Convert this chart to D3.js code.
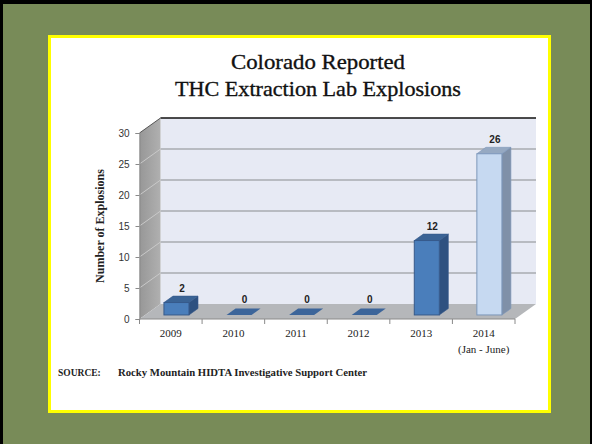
<!DOCTYPE html>
<html>
<head>
<meta charset="utf-8">
<script src="https://cdn.jsdelivr.net/npm/d3@7"></script>
<style>
  html, body { margin: 0; padding: 0; background: #000; }
  svg { display: block; }
</style>
</head>
<body>
<script>
// Reported THC extraction lab explosions in Colorado, by year
const categories = ["2009", "2010", "2011", "2012", "2013", "2014"];
const subLabels = ["", "", "", "", "", "(Jan - June)"];
const explosions = [2, 0, 0, 0, 12, 26];
const yTicks = [0, 5, 10, 15, 20, 25, 30];

const W = 592, H = 444;
const svg = d3.select("body").append("svg").attr("width", W).attr("height", H);

// green mat with black edge
svg.append("rect").attr("x", 3).attr("y", 4).attr("width", 587).attr("height", H - 4).attr("fill", "#788b58");
// white card with yellow border
svg.append("rect").attr("x", 49.5).attr("y", 36.5).attr("width", 500).attr("height", 375)
  .attr("fill", "#fff").attr("stroke", "#ffff00").attr("stroke-width", 3);

// title
const serif = "'Liberation Serif', 'Times New Roman', serif";
svg.append("text").attr("x", 318).attr("y", 69).attr("text-anchor", "middle")
  .attr("font-family", serif).attr("font-size", 21).attr("fill", "#111")
  .attr("stroke", "#111").attr("stroke-width", 0.35)
  .attr("textLength", 174).attr("lengthAdjust", "spacingAndGlyphs")
  .text("Colorado Reported");
svg.append("text").attr("x", 318).attr("y", 96).attr("text-anchor", "middle")
  .attr("font-family", serif).attr("font-size", 21).attr("fill", "#111")
  .attr("stroke", "#111").attr("stroke-width", 0.35)
  .attr("textLength", 286).attr("lengthAdjust", "spacingAndGlyphs")
  .text("THC Extraction Lab Explosions");

// scales
const x = d3.scaleBand().domain(categories).range([139.5, 515]);
const y = d3.scaleLinear().domain([0, 30]).range([319, 133]);
const DX = 21, DY = -15;          // depth of the plot box
const t0 = 0.27, t1 = 0.70;        // bar depth band inside the box

const [x0, x1] = x.range();
const g = svg.append("g");

const defs = svg.append("defs");
const lg = defs.append("linearGradient").attr("id", "sideWall").attr("x1", 0).attr("x2", 1);
lg.append("stop").attr("offset", 0).attr("stop-color", "#979797");
lg.append("stop").attr("offset", 1).attr("stop-color", "#b0b0b0");

// back wall
g.append("rect").attr("x", x0 + DX).attr("y", y(30) + DY)
  .attr("width", x1 - x0).attr("height", y(0) - y(30)).attr("fill", "#e7eaf4");
// left side wall
g.append("polygon")
  .attr("points", [[x0, y(30)], [x0 + DX, y(30) + DY], [x0 + DX, y(0) + DY], [x0, y(0)]].join(" "))
  .attr("fill", "url(#sideWall)");
// floor
g.append("polygon")
  .attr("points", [[x0, y(0)], [x1, y(0)], [x1 + DX, y(0) + DY], [x0 + DX, y(0) + DY]].join(" "))
  .attr("fill", "#b5b7ba");

// gridlines on back wall and side wall
const gridVals = yTicks.filter(v => v > 0 && v < 30);
g.selectAll(".grid").data(gridVals).join("line")
  .attr("x1", x0 + DX).attr("x2", x1 + DX)
  .attr("y1", d => y(d) + DY).attr("y2", d => y(d) + DY)
  .attr("stroke", "#a9abb0").attr("stroke-width", 1.5);
g.selectAll(".sgrid").data(gridVals).join("line")
  .attr("x1", x0).attr("x2", x0 + DX)
  .attr("y1", d => y(d)).attr("y2", d => y(d) + DY)
  .attr("stroke", "#c9c9c9").attr("stroke-width", 1);
// top edges of the box
g.append("line").attr("x1", x0 + DX).attr("x2", x1 + DX)
  .attr("y1", y(30) + DY).attr("y2", y(30) + DY).attr("stroke", "#111").attr("stroke-width", 1.5);
g.append("line").attr("x1", x0).attr("x2", x0 + DX)
  .attr("y1", y(30)).attr("y2", y(30) + DY).attr("stroke", "#555").attr("stroke-width", 1);

// y axis
const yAxis = g.append("g").attr("transform", `translate(${x0},0)`)
  .call(d3.axisLeft(y).tickValues(yTicks).tickSize(4).tickPadding(6));
yAxis.select(".domain").attr("stroke", "#8a8a8a");
yAxis.selectAll(".tick line").attr("stroke", "#8a8a8a");
yAxis.selectAll(".tick text").attr("font-family", "'Liberation Sans', Arial, sans-serif")
  .attr("font-size", 10).attr("fill", "#333");

// x axis line with ticks at category boundaries
g.append("line").attr("x1", x0).attr("x2", x1).attr("y1", y(0)).attr("y2", y(0))
  .attr("stroke", "#8a8a8a");
const bounds = categories.map(c => x(c)).concat([x1]);
g.selectAll(".xt").data(bounds).join("line")
  .attr("x1", d => d).attr("x2", d => d).attr("y1", y(0)).attr("y2", y(0) + 5)
  .attr("stroke", "#8a8a8a");
g.selectAll(".xl").data(categories).join("text")
  .attr("x", d => x(d) + x.bandwidth() / 2).attr("y", 337)
  .attr("text-anchor", "middle").attr("font-family", serif).attr("font-size", 11).attr("fill", "#222")
  .text(d => d);
g.selectAll(".xs").data(categories.filter((c, i) => subLabels[i])).join("text")
  .attr("x", d => x(d) + x.bandwidth() / 2).attr("y", 353)
  .attr("text-anchor", "middle").attr("font-family", serif).attr("font-size", 11).attr("fill", "#222")
  .text(d => subLabels[categories.indexOf(d)]);

// y axis title
svg.append("text").attr("transform", "translate(104,226) rotate(-90)")
  .attr("text-anchor", "middle").attr("font-family", serif).attr("font-size", 12)
  .attr("font-weight", "bold").attr("fill", "#222").text("Number of Explosions");

// 3D bars
const bw = x.bandwidth() * 0.4;
const ddx = DX * (t1 - t0), ddy = DY * (t1 - t0);
const palette = {
  normal: { front: "#4a7ebb", stroke: "#36598a", top: "#3a6395", side: "#2e5180", flat: "#3c659a" },
  partial: { front: "#c6d9f1", stroke: "#7d97ba", top: "#96a9c2", side: "#7f90a8", flat: "#96a9c2" }
};
const bars = g.selectAll(".bar").data(explosions.map((v, i) => ({ v, c: categories[i], i })))
  .join("g");
bars.each(function (d) {
  const s = d.i === categories.length - 1 ? palette.partial : palette.normal;
  const bx = x(d.c) + (x.bandwidth() - bw) / 2 + DX * t0;
  const yb = y(0) + DY * t0;
  const yt = y(d.v) + DY * t0;
  const sel = d3.select(this);
  if (d.v === 0) {
    sel.append("polygon")
      .attr("points", [[bx, yb], [bx + bw, yb], [bx + bw + ddx, yb + ddy], [bx + ddx, yb + ddy]].join(" "))
      .attr("fill", s.flat);
  } else {
    sel.append("polygon")
      .attr("points", [[bx + bw, yt], [bx + bw + ddx, yt + ddy], [bx + bw + ddx, yb + ddy], [bx + bw, yb]].join(" "))
      .attr("fill", s.side).attr("stroke", s.stroke).attr("stroke-width", 0.6);
    sel.append("polygon")
      .attr("points", [[bx, yt], [bx + bw, yt], [bx + bw + ddx, yt + ddy], [bx + ddx, yt + ddy]].join(" "))
      .attr("fill", s.top).attr("stroke", s.stroke).attr("stroke-width", 0.6);
    sel.append("rect").attr("x", bx).attr("y", yt).attr("width", bw).attr("height", yb - yt)
      .attr("fill", s.front).attr("stroke", s.stroke).attr("stroke-width", 1);
  }
  sel.append("text")
    .attr("x", bx + bw / 2 + ddx / 2 + 1).attr("y", yt + ddy - (d.v === 0 ? 6 : 4))
    .attr("text-anchor", "middle").attr("font-family", "'Liberation Sans', Arial, sans-serif")
    .attr("font-size", 10).attr("font-weight", "bold").attr("fill", "#222")
    .text(d.v);
});

// source note
svg.append("text").attr("x", 58).attr("y", 376)
  .attr("font-family", serif).attr("font-size", 9.5).attr("font-weight", "bold").attr("fill", "#222")
  .text("SOURCE:");
svg.append("text").attr("x", 118).attr("y", 376)
  .attr("font-family", serif).attr("font-size", 9.5).attr("font-weight", "bold").attr("fill", "#222")
  .attr("textLength", 249).attr("lengthAdjust", "spacingAndGlyphs")
  .text("Rocky Mountain HIDTA Investigative Support Center");
</script>
</body>
</html>
